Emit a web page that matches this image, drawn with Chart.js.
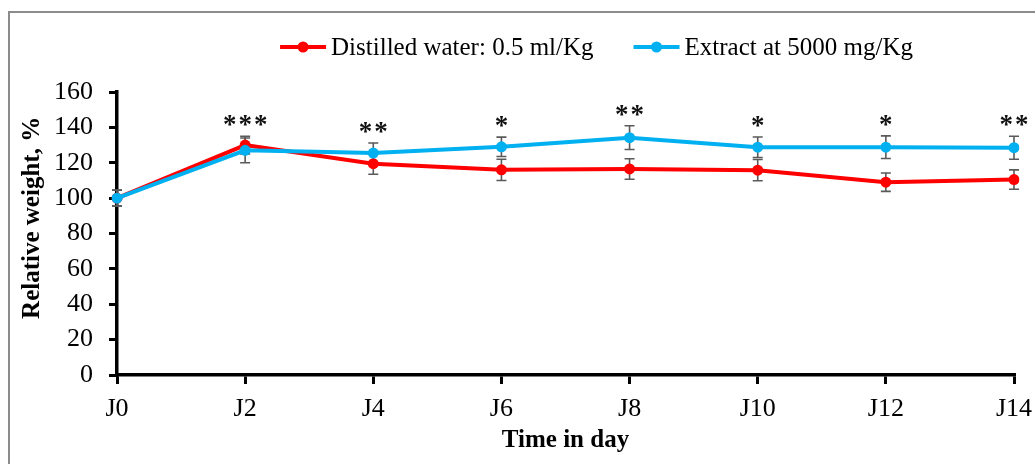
<!DOCTYPE html>
<html>
<head>
<meta charset="utf-8">
<title>Relative weight</title>
<script src="https://cdn.jsdelivr.net/npm/chart.js@4.4.1/dist/chart.umd.min.js"></script>
<style>
  html, body { margin: 0; padding: 0; overflow: hidden; background: #fff; }
  #frame { position: absolute; left: 8px; top: 11px; width: 1100px; height: 520px; border: 2px solid #8c8c8c; }
  #chart { position: absolute; left: 0; top: 0; }
</style>
</head>
<body>
<div id="frame">
  <canvas id="chart" width="1025" height="451"></canvas>
</div>
<script>
// data
const days = ['J0', 'J2', 'J4', 'J6', 'J8', 'J10', 'J12', 'J14'];
const waterMean = [100, 130, 119.5, 116, 116.5, 115.8, 109, 110.5];
const waterErr = [4.5, 5, 6, 6, 5.8, 6, 5.2, 5.5];
const extractMean = [100, 127, 125.5, 129, 134.2, 128.8, 128.8, 128.5];
const extractErr = [4.5, 7, 5.7, 5.5, 6.7, 5.8, 6.4, 6.5];
const signif = ['', '***', '**', '*', '**', '*', '*', '**'];
const yTicks = [0, 20, 40, 60, 80, 100, 120, 140, 160];

const serif = "'Liberation Serif', 'Times New Roman', serif";
Chart.defaults.font.family = serif;
Chart.defaults.color = '#000';

// error bars under the lines
const errorBars = {
  id: 'errorBars',
  beforeDatasetsDraw(chart) {
    const {ctx, scales: {x, y}} = chart;
    ctx.save();
    ctx.strokeStyle = '#5a5a5a';
    ctx.lineWidth = 1.6;
    chart.data.datasets.forEach(ds => {
      ds.data.forEach((v, i) => {
        const px = x.getPixelForValue(i);
        const top = y.getPixelForValue(v + ds.errors[i]);
        const bot = y.getPixelForValue(v - ds.errors[i]);
        ctx.beginPath();
        ctx.moveTo(px, top); ctx.lineTo(px, bot);
        ctx.moveTo(px - 5, top); ctx.lineTo(px + 5, top);
        ctx.moveTo(px - 5, bot); ctx.lineTo(px + 5, bot);
        ctx.stroke();
      });
    });
    ctx.restore();
  }
};

// significance stars above the highest error bar
const stars = {
  id: 'stars',
  afterDatasetsDraw(chart) {
    const {ctx, scales: {x, y}} = chart;
    ctx.save();
    ctx.font = 'bold 27px ' + serif;
    ctx.letterSpacing = '2px';
    ctx.fillStyle = '#111';
    ctx.textAlign = 'center';
    ctx.textBaseline = 'alphabetic';
    signif.forEach((s, i) => {
      if (!s) return;
      const hi = Math.max(waterMean[i] + waterErr[i], extractMean[i] + extractErr[i]);
      ctx.fillText(s, x.getPixelForValue(i) + 1, y.getPixelForValue(hi) - 3);
    });
    ctx.restore();
  }
};

// legend drawn as line + dot, like the original
const lineLegend = {
  id: 'lineLegend',
  afterDraw(chart) {
    const ctx = chart.ctx;
    ctx.save();
    ctx.font = '25px ' + serif;
    ctx.textBaseline = 'middle';
    const items = chart.data.datasets.map(ds => ({
      text: ds.label, color: ds.borderColor, w: ctx.measureText(ds.label).width
    }));
    const total = items.reduce((s, it) => s + 46 + 5 + it.w, 0) + 40 * (items.length - 1);
    let x0 = chart.width / 2 + 74 - total / 2;
    const yl = 34;
    items.forEach(it => {
      ctx.strokeStyle = it.color;
      ctx.fillStyle = it.color;
      ctx.lineWidth = 4;
      ctx.beginPath();
      ctx.moveTo(x0, yl); ctx.lineTo(x0 + 46, yl);
      ctx.stroke();
      ctx.beginPath();
      ctx.arc(x0 + 23, yl, 5.5, 0, Math.PI * 2);
      ctx.fill();
      ctx.fillStyle = '#000';
      ctx.fillText(it.text, x0 + 51, yl + 1);
      x0 += 46 + 5 + it.w + 40;
    });
    ctx.restore();
  }
};

const ctx = document.getElementById('chart').getContext('2d');
const weightChart = new Chart(ctx, {
  type: 'line',
  data: {
    labels: days,
    datasets: [{
      label: 'Distilled water: 0.5 ml/Kg',
      data: waterMean,
      errors: waterErr,
      borderColor: '#ff0000',
      backgroundColor: '#ff0000',
      borderWidth: 4,
      pointRadius: 5.5,
      pointBorderWidth: 0,
      order: 2
    }, {
      label: 'Extract at 5000 mg/Kg',
      data: extractMean,
      errors: extractErr,
      borderColor: '#00b0f0',
      backgroundColor: '#00b0f0',
      borderWidth: 4,
      pointRadius: 5.5,
      pointBorderWidth: 0,
      order: 1
    }]
  },
  options: {
    responsive: false,
    animation: false,
    events: [],
    layout: { padding: { left: 0, top: 79, right: 21, bottom: 0 } },
    plugins: {
      legend: { display: false },
      tooltip: { enabled: false }
    },
    scales: {
      x: {
        offset: false,
        grid: { display: true, drawOnChartArea: false, drawTicks: true, tickLength: 9, color: '#000', lineWidth: 3 },
        border: { display: true, color: '#000', width: 3.5 },
        ticks: { color: '#000', font: { size: 26 }, padding: 10, maxRotation: 0, autoSkip: false },
        title: {
          display: true, text: 'Time in day', color: '#000',
          font: { size: 25, weight: 'bold' }, padding: { top: 0, bottom: 8 }
        },
        afterFit(scale) {
          scale.height = 89;
          scale.paddingLeft = 0;
          scale.paddingRight = 0;
        }
      },
      y: {
        min: 0,
        max: 160,
        afterBuildTicks(scale) {
          scale.ticks = yTicks.map(v => ({ value: v }));
        },
        grid: { display: true, drawOnChartArea: false, drawTicks: true, tickLength: 8, color: '#000', lineWidth: 3 },
        border: { display: true, color: '#000', width: 3.5 },
        ticks: { color: '#000', font: { size: 26 }, padding: 16 },
        title: {
          // leading em space nudges the title up as in the original
          display: true, text: '\u2003 Relative weight, %', color: '#000',
          font: { size: 25, weight: 'bold' }, padding: { top: 8, bottom: 0 }
        },
        afterFit(scale) {
          scale.width = 107;
          scale.paddingTop = 0;
          scale.paddingBottom = 0;
        }
      }
    }
  },
  plugins: [errorBars, stars, lineLegend]
});
</script>
</body>
</html>
